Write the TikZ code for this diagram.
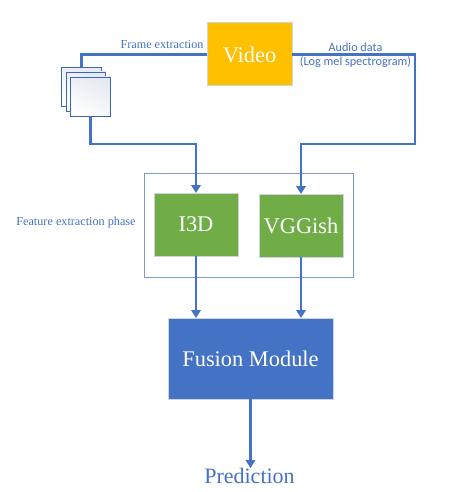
\documentclass[tikz,border=0pt]{standalone}
\usepackage{fontspec}
\setmainfont{Liberation Serif}
\newfontfamily\calfont{Carlito}
\usetikzlibrary{arrows.meta}
\definecolor{lineblue}{HTML}{4472C4}
\definecolor{gold}{HTML}{FFC000}
\definecolor{leaf}{HTML}{70AD47}
\definecolor{edgegray}{HTML}{CFD5DE}
\definecolor{framed}{HTML}{7C9CCF}
\definecolor{pale}{HTML}{E6E8F2}
\tikzset{
  blockbox/.style={draw=edgegray,line width=1pt,inner sep=0pt,outer sep=0pt,text=white,font=\fontsize{22.4}{24}\selectfont},
  framebox/.style={draw=lineblue!90!black,line width=0.9pt,inner sep=0pt,outer sep=0pt,minimum width=39.5pt,minimum height=39pt,top color=pale,bottom color=white,shading angle=-25},
  link/.style={draw=lineblue,line width=2.6pt},
  flow/.style={link,-{Triangle[length=8pt,width=9.5pt]}},
  serifnote/.style={text=lineblue,inner sep=0pt,font=\fontsize{12.2}{14}\selectfont},
  sansnote/.style={text=lineblue,inner sep=0pt,font=\calfont\fontsize{12.2}{14}\selectfont}
}
\begin{document}
\begin{tikzpicture}[x=1pt,y=-1pt]
\useasboundingbox (0,0) rectangle (452,492);
\node[draw=framed,line width=0.9pt,inner sep=0pt,outer sep=0pt,minimum width=209pt,minimum height=104pt] (phase) at (248.5,225) {};
\node[blockbox,fill=gold,minimum width=85pt,minimum height=63pt] (video) at (249.5,54.5) {Video};
\node[blockbox,fill=leaf,minimum width=84pt,minimum height=63pt] (i3d) at (196,224.5) {I3D};
\node[blockbox,fill=leaf,minimum width=84pt,minimum height=63pt] (vggish) at (301,225.5) {VGGish};
\node[blockbox,fill=lineblue,minimum width=165pt,minimum height=81pt] (fusion) at (250.5,358.5) {Fusion Module};
\node[framebox] (f1) at (81.5,87) {};
\node[framebox] (f2) at (86,91.5) {};
\node[framebox] (f3) at (90.5,96.5) {};
\node[text=lineblue,inner sep=0pt,font=\fontsize{22}{24}\selectfont] (pred) at (249.5,476) {Prediction};
\node[serifnote] (framelabel) at (162,45) {Frame extraction};
\node[sansnote] (audiolabel) at (355.5,47) {Audio data};
\node[sansnote] (loglabel) at (355.5,62) {(Log mel spectrogram)};
\node[serifnote] (phaselabel) at (76,223) {Feature extraction phase};
\coordinate (rightturn) at (415,144);
\coordinate (leftturn) at (90.5,144);
\draw[link] (video.west) -| (f1.north);
\draw[flow] (f3.south) -- (leftturn) -| (i3d.north);
\draw[flow] (video.east) -| (rightturn) -| (vggish.north);
\draw[flow] (i3d.south) -- (i3d.south |- fusion.north);
\draw[flow] (vggish.south) -- (vggish.south |- fusion.north);
\draw[flow] (fusion.south) -- (pred.north -| fusion.south);
\end{tikzpicture}
\end{document}
